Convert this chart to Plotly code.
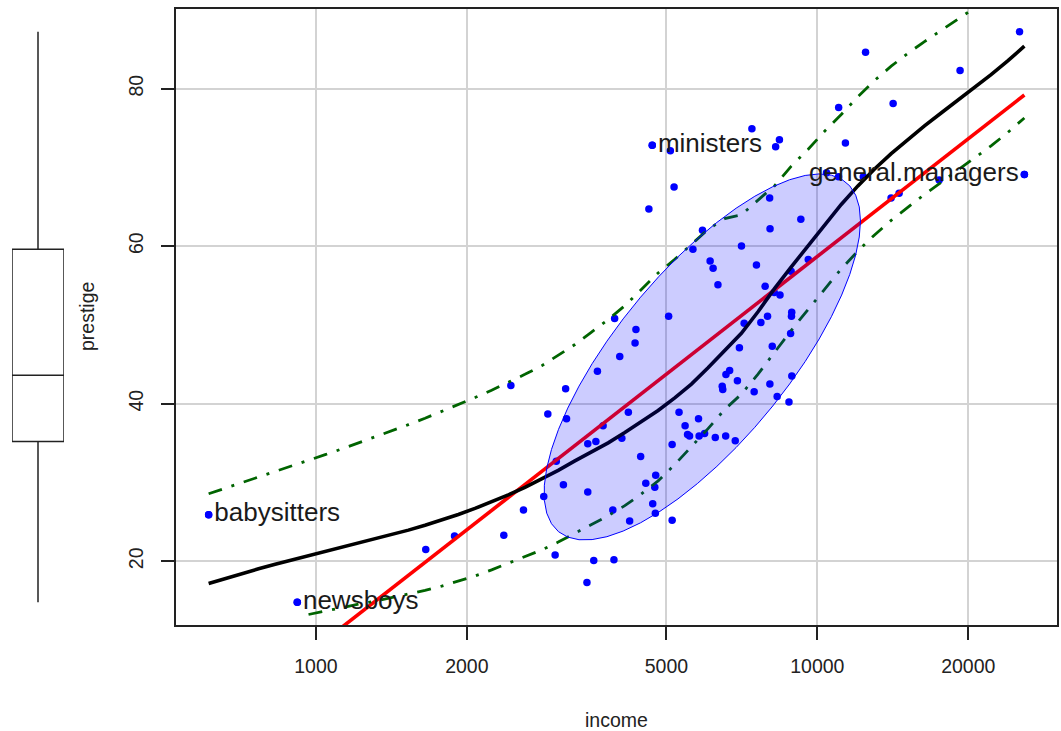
import numpy as np
import plotly.graph_objects as go

# Prestige of Canadian occupations (1971): average income (dollars) and Pineo-Porter prestige score
occupation = [
    "gov.administrators", "general.managers", "accountants", "purchasing.officers", "chemists",
    "physicists", "biologists", "architects", "civil.engineers", "mining.engineers",
    "surveyors", "draughtsmen", "computer.programers", "economists", "psychologists",
    "social.workers", "lawyers", "librarians", "vocational.counsellors", "ministers",
    "university.teachers", "primary.school.teachers", "secondary.school.teachers", "physicians", "veterinarians",
    "osteopaths.chiropractors", "nurses", "nursing.aides", "physio.therapsts", "pharmacists",
    "medical.technicians", "commercial.artists", "radio.tv.announcers", "athletes", "secretaries",
    "typists", "bookkeepers", "tellers.cashiers", "computer.operators", "shipping.clerks",
    "file.clerks", "receptionsts", "mail.carriers", "postal.clerks", "telephone.operators",
    "collectors", "claim.adjustors", "travel.clerks", "office.clerks", "sales.supervisors",
    "commercial.travellers", "sales.clerks", "newsboys", "service.station.attendant", "insurance.agents",
    "real.estate.salesmen", "buyers", "firefighters", "policemen", "cooks",
    "bartenders", "funeral.directors", "babysitters", "launderers", "janitors",
    "elevator.operators", "farmers", "farm.workers", "rotary.well.drillers", "bakers",
    "slaughterers.1", "slaughterers.2", "canners", "textile.weavers", "textile.labourers",
    "tool.die.makers", "machinists", "sheet.metal.workers", "welders", "auto.workers",
    "aircraft.workers", "electronic.workers", "radio.tv.repairmen", "sewing.mach.operators", "auto.repairmen",
    "aircraft.repairmen", "railway.sectionmen", "electrical.linemen", "electricians", "construction.foremen",
    "carpenters", "masons", "house.painters", "plumbers", "construction.labourers",
    "pilots", "train.engineers", "bus.drivers", "taxi.drivers", "longshoremen",
    "typesetters", "bookbinders",
]

income = [
    12351, 25879, 9271, 8865, 8403,
    11030, 8258, 14163, 11377, 11023,
    5902, 7059, 8425, 8049, 7405,
    6336, 19263, 6112, 9593, 4686,
    12480, 5648, 8034, 25308, 14558,
    17498, 4614, 3485, 5092, 10432,
    5180, 6197, 7562, 8206, 4036,
    3148, 4348, 2448, 4330, 4761,
    3016, 2901, 5511, 3739, 3161,
    4741, 5052, 6259, 4075, 7482,
    8780, 2594, 918, 2370, 8131,
    6992, 7956, 8895, 8891, 3116,
    3930, 7869, 611, 3000, 3472,
    3582, 3643, 1656, 6860, 4199,
    5134, 5134, 1890, 4443, 3485,
    8043, 6686, 6565, 6477, 5811,
    6573, 3942, 5449, 2847, 5795,
    7716, 4696, 8316, 7147, 8880,
    5299, 5959, 4549, 6928, 3910,
    14032, 8845, 5562, 4224, 4753,
    6462, 3617,
]

prestige = [
    68.8, 69.1, 63.4, 56.8, 73.5,
    77.6, 72.6, 78.1, 73.1, 68.8,
    62.0, 60.0, 53.8, 62.2, 74.9,
    55.1, 82.3, 58.1, 58.3, 72.8,
    84.6, 59.6, 66.1, 87.2, 66.7,
    68.4, 64.7, 34.9, 72.1, 69.3,
    67.5, 57.2, 57.6, 54.1, 46.0,
    41.9, 49.4, 42.3, 47.7, 30.9,
    32.7, 38.7, 36.1, 37.2, 38.1,
    29.4, 51.1, 35.7, 35.6, 41.5,
    40.2, 26.5, 14.8, 23.3, 47.3,
    47.1, 51.1, 43.5, 51.6, 29.7,
    20.2, 54.9, 25.9, 20.8, 17.3,
    20.1, 44.1, 21.5, 35.3, 38.9,
    25.2, 34.8, 23.2, 33.3, 28.8,
    42.5, 44.2, 35.9, 41.8, 35.9,
    43.7, 50.8, 37.2, 28.2, 38.1,
    50.3, 27.3, 40.9, 50.2, 51.1,
    38.9, 36.2, 29.9, 42.9, 26.5,
    66.1, 48.9, 35.9, 25.1, 26.1,
    42.2, 35.2,
]

labels_right = ["babysitters", "newsboys", "ministers"]
labels_left = ["general.managers"]
x_ticks = [1000, 2000, 5000, 10000, 20000]
y_ticks = [20, 40, 60, 80]

inc = np.array(income, dtype=float)
pre = np.array(prestige, dtype=float)
lx = np.log(inc)


# ---------- loess: local fits at kd-tree vertices, cubic Hermite in between ----------
def tricube(u):
    u = np.clip(np.abs(u), 0.0, 1.0)
    return (1.0 - u ** 3) ** 3


def kd_vertices(x, fc):
    xs = np.sort(x)
    n = len(xs)
    mu = 0.005 * max(xs[-1] - xs[0], 1e-10 * max(abs(xs[0]), abs(xs[-1])) + 1e-30)
    verts = [xs[0] - mu, xs[-1] + mu]

    def split(l, u, vlo, vhi):
        if u - l + 1 <= fc:
            return
        m = (l + u) // 2
        off = 0
        while l <= m + off < u:
            if xs[m + off] == xs[m + off + 1]:
                off = -off
                if off >= 0:
                    off += 1
            else:
                m = m + off
                break
        if xs[m] == vlo or xs[m] == vhi:
            return
        verts.append(xs[m])
        split(l, m, vlo, xs[m])
        split(m + 1, u, xs[m], vhi)

    split(0, n - 1, verts[0], verts[1])
    return np.array(sorted(verts))


def loess(x, y, x_new, span=2 / 3, degree=1, iterations=4, cell=0.2):
    n = len(x)
    q = int(np.floor(n * span))
    fc = int(np.floor(n * span * cell))
    verts = kd_vertices(x, fc)

    def local(x0, wr):
        d = np.abs(x - x0)
        h = np.sort(d)[q - 1]
        w = tricube(d / h) * wr
        if degree == 0:
            return np.sum(w * y) / np.sum(w), 0.0
        sw = np.sqrt(w)
        A = np.column_stack([np.ones(n), x - x0]) * sw[:, None]
        beta = np.linalg.lstsq(A, y * sw, rcond=None)[0]
        return beta[0], beta[1]

    def interp(vals, slopes, pts):
        out = np.full(len(pts), np.nan)
        for k, t in enumerate(pts):
            if t < verts[0] or t > verts[-1]:
                continue
            j = min(np.searchsorted(verts, t, side="right") - 1, len(verts) - 2)
            a, b = verts[j], verts[j + 1]
            dl = b - a
            s = (t - a) / dl
            phi0 = (1 - s) ** 2 * (1 + 2 * s)
            phi1 = s ** 2 * (3 - 2 * s)
            psi0 = s * (1 - s) ** 2
            psi1 = -s ** 2 * (1 - s)
            out[k] = phi0 * vals[j] + phi1 * vals[j + 1] + (psi0 * slopes[j] + psi1 * slopes[j + 1]) * dl
        return out

    rob = np.ones(n)
    res = None
    for it in range(iterations):
        vs = np.array([local(v, rob) for v in verts])
        fitted = interp(vs[:, 0], vs[:, 1], x)
        res = y - fitted
        if it < iterations - 1:
            cmad = 6.0 * np.median(np.abs(res))
            r = np.abs(res) / cmad
            rob = np.where(r < 1, (1 - r ** 2) ** 2, 0.0)
    return interp(vs[:, 0], vs[:, 1], np.asarray(x_new)), res


order = np.argsort(lx, kind="stable")
xs, ys = lx[order], pre[order]
x_eval = np.linspace(xs.min(), xs.max(), 50)
y_eval, resid = loess(xs, ys, x_eval)

# conditional spread: smoothed squared positive / negative residuals
pos = resid > 0
sq_pos, _ = loess(xs[pos], resid[pos] ** 2, x_eval, degree=0, iterations=1)
sq_neg, _ = loess(xs[~pos], resid[~pos] ** 2, x_eval, degree=0, iterations=1)
upper = y_eval + np.sqrt(sq_pos)
lower = y_eval - np.sqrt(sq_neg)

# ---------- least-squares line on log(income) ----------
slope, intercept = np.polyfit(lx, pre, 1)
reg_x = np.array([lx.min(), lx.max()])
reg_y = intercept + slope * reg_x


# ---------- robust (multivariate t, nu = 5) data ellipse, level 0.5 ----------
def cov_trob(X, nu=5, maxit=25, tol=0.01):
    n, p = X.shape
    loc = X.mean(axis=0)
    w = np.ones(n)
    Xc = X - loc
    for _ in range(maxit):
        w0 = w
        Xc = X - loc
        A = np.sqrt(w / w.sum())[:, None] * Xc
        _, d, vt = np.linalg.svd(A, full_matrices=False)
        wX = Xc @ vt.T @ np.diag(1 / d)
        Q = (wX ** 2).sum(axis=1)
        w = (nu + p) / (nu + Q)
        loc = (w[:, None] * X).sum(axis=0) / w.sum()
        if np.all(np.abs(w - w0) < tol):
            break
    B = np.sqrt(w)[:, None] * Xc
    # scatter matrix of the t fit rescaled to a covariance matrix
    return loc, (B.T @ B / n) * nu / (nu - 2)


center, shape = cov_trob(np.column_stack([lx, pre]))
n_obs = len(pre)
level = 0.5
d2 = n_obs - 1
qf2 = (d2 / 2) * ((1 - level) ** (-2 / d2) - 1)
radius = np.sqrt(2 * qf2)
theta = np.linspace(0, 2 * np.pi, 52)
circle = np.column_stack([np.cos(theta), np.sin(theta)])
L = np.linalg.cholesky(shape)
ell = center + radius * circle @ L.T

# ---------- axis ranges (4% padding) ----------
l10 = np.log10(inc)
xr = [l10.min() - 0.04 * (l10.max() - l10.min()), l10.max() + 0.04 * (l10.max() - l10.min())]
yr = [pre.min() - 0.04 * (pre.max() - pre.min()), pre.max() + 0.04 * (pre.max() - pre.min())]

# five-number summary for the margin boxplot
sp = np.sort(pre)
n4 = np.floor((n_obs + 3) / 2) / 2
dd = np.array([1, n4, (n_obs + 1) / 2, n_obs + 1 - n4, n_obs])
five = 0.5 * (sp[np.floor(dd).astype(int) - 1] + sp[np.ceil(dd).astype(int) - 1])

W, H = 1061, 731
PL, PR, PT, PB = 176, 1057, 9, 625
FONT = "Liberation Sans, Arial, sans-serif"

fig = go.Figure()

fig.add_trace(go.Scatter(x=inc, y=pre, mode="markers",
                         marker=dict(color="#0000ff", size=7.5, line=dict(width=0)),
                         hoverinfo="skip", showlegend=False))

fig.add_trace(go.Scatter(x=np.exp(reg_x), y=reg_y, mode="lines",
                         line=dict(color="#ff0000", width=3.6), showlegend=False))
fig.add_trace(go.Scatter(x=np.exp(x_eval), y=y_eval, mode="lines",
                         line=dict(color="#000000", width=3.6), showlegend=False))
for band in (upper, lower):
    fig.add_trace(go.Scatter(x=np.exp(x_eval), y=band, mode="lines",
                             line=dict(color="#006400", width=2.8, dash="14px,10px,3px,10px"),
                             connectgaps=False, showlegend=False))

fig.add_trace(go.Scatter(x=np.exp(ell[:, 0]), y=ell[:, 1], mode="lines", fill="toself",
                         fillcolor="rgba(0,0,255,0.2)", line=dict(color="#0000ff", width=1),
                         showlegend=False))

label_font = dict(family=FONT, size=26, color="#1a1a1a")
for names, where in ((labels_right, "middle right"), (labels_left, "middle left")):
    ids = [occupation.index(o) for o in names]
    fig.add_trace(go.Scatter(x=[income[i] for i in ids], y=[prestige[i] for i in ids],
                             mode="markers+text", text=names, textposition=where,
                             marker=dict(color="#0000ff", size=7.5, line=dict(width=0)),
                             textfont=label_font, hoverinfo="skip", showlegend=False))

# marginal boxplot of prestige
fig.add_trace(go.Box(x=[0], q1=[five[1]], median=[five[2]], q3=[five[3]],
                     lowerfence=[five[0]], upperfence=[five[4]], width=1,
                     fillcolor="#ffffff", line=dict(color="#222222", width=1.5),
                     whiskerwidth=0, xaxis="x2", yaxis="y2", showlegend=False,
                     hoverinfo="skip"))

axis_font = dict(family=FONT, size=19.5, color="#222222")
fig.update_layout(
    width=W, height=H, template="none",
    margin=dict(l=0, r=0, t=0, b=0),
    paper_bgcolor="#ffffff", plot_bgcolor="#ffffff",
    showlegend=False,
    xaxis=dict(type="log", range=xr, domain=[PL / W, PR / W], anchor="y",
               tickvals=x_ticks, ticktext=[str(v) for v in x_ticks],
               ticks="outside", ticklen=13, tickwidth=1.5, tickcolor="#222222",
               showline=True, linecolor="#222222", linewidth=1.5, mirror=True,
               showgrid=True, gridcolor="#d3d3d3", gridwidth=1.5, zeroline=False,
               tickfont=axis_font, ticklabelstandoff=10, automargin=False),
    yaxis=dict(range=yr, domain=[1 - PB / H, 1 - PT / H], anchor="x",
               tickvals=y_ticks, ticktext=[str(v) for v in y_ticks], tickangle=-90,
               ticks="outside", ticklen=13, tickwidth=1.5, tickcolor="#222222",
               showline=True, linecolor="#222222", linewidth=1.5, mirror=True,
               showgrid=True, gridcolor="#d3d3d3", gridwidth=1.5, zeroline=False,
               tickfont=axis_font, ticklabelstandoff=10, automargin=False),
    xaxis2=dict(range=[-0.5, 0.5], domain=[12 / W, 64 / W], anchor="y2", visible=False),
    yaxis2=dict(range=yr, domain=[1 - PB / H, 1 - PT / H], anchor="x2", visible=False),
    annotations=[
        dict(text="income", xref="paper", yref="paper", x=(PL + PR) / 2 / W, y=1 - 720 / H,
             xanchor="center", yanchor="middle", showarrow=False,
             font=dict(family=FONT, size=19.5, color="#222222")),
        dict(text="prestige", xref="paper", yref="paper", x=87 / W, y=1 - (PT + PB) / 2 / H,
             xanchor="center", yanchor="middle", textangle=-90, showarrow=False,
             font=dict(family=FONT, size=19.5, color="#222222")),
    ],
)

fig.write_html("out.html")
